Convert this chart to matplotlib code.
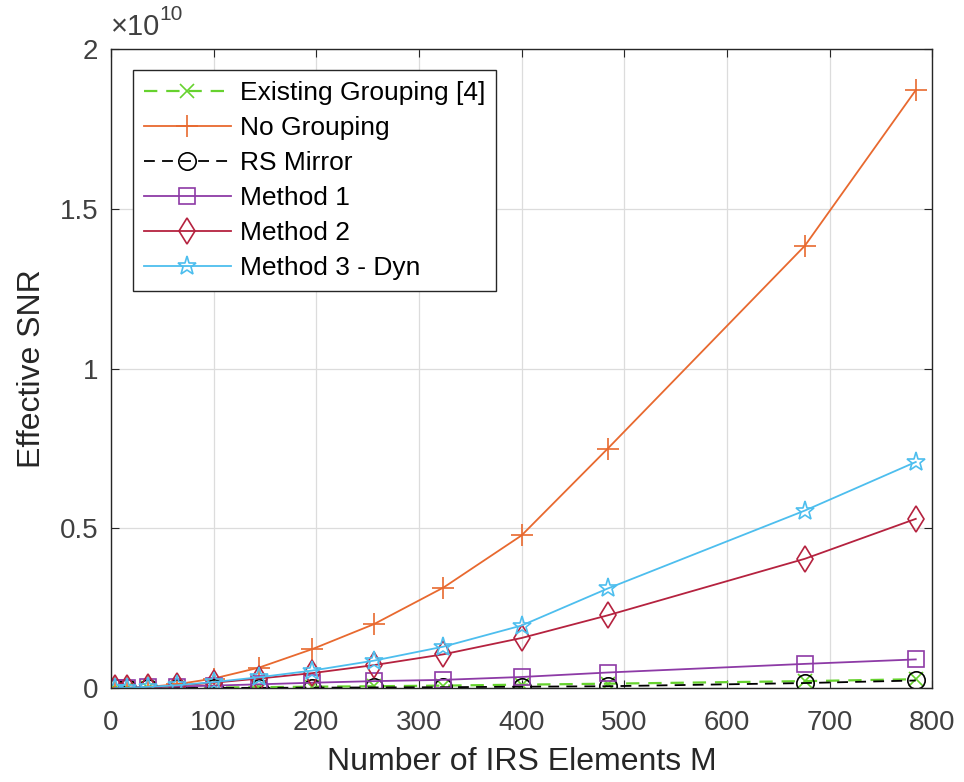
import numpy as np
import matplotlib
matplotlib.use('Agg')
import matplotlib.pyplot as plt

plt.rcParams['font.family'] = ['Liberation Sans', 'DejaVu Sans']

# number of IRS elements
M = [4, 16, 36, 64, 100, 144, 196, 256, 324, 400, 484, 676, 784]

# effective SNR values, in units of 1e10
existing_grouping = [0.0001, 0.0003, 0.0007, 0.0013, 0.002, 0.003, 0.0045, 0.006, 0.008, 0.011, 0.014, 0.022, 0.028]
no_grouping = [0.0001, 0.001, 0.004, 0.012, 0.03, 0.064, 0.122, 0.2, 0.315, 0.478, 0.75, 1.385, 1.872]
rs_mirror = [0.0, 0.0001, 0.0002, 0.0004, 0.0007, 0.001, 0.0015, 0.0022, 0.003, 0.0045, 0.006, 0.016, 0.024]
method1 = [0.0003, 0.001, 0.003, 0.005, 0.008, 0.012, 0.017, 0.022, 0.026, 0.035, 0.049, 0.076, 0.09]
method2 = [0.0, 0.0008, 0.003, 0.008, 0.017, 0.03, 0.047, 0.072, 0.106, 0.157, 0.228, 0.405, 0.53]
method3 = [0.0001, 0.001, 0.004, 0.009, 0.019, 0.034, 0.055, 0.086, 0.13, 0.196, 0.312, 0.556, 0.708]

yticks = [0, 0.5, 1, 1.5, 2]
ytick_labels = ['0', '0.5', '1', '1.5', '2']

fig = plt.figure(figsize=(9.64, 7.82), dpi=100)
ax = fig.add_axes([0.115, 0.12, 0.852, 0.817])

lw = 1.3
ax.plot(M, existing_grouping, '--', color='#66d22e', marker='x', ms=10, mew=1.2,
        lw=1.6, dashes=(6, 4), label='Existing Grouping [4]')
ax.plot(M, no_grouping, '-', color='#e8692f', marker='+', ms=16, mew=1.2,
        lw=lw, label='No Grouping')
ax.plot(M, rs_mirror, '--', color='black', marker='o', ms=12.5, mew=1.2,
        mfc='none', lw=lw, dashes=(6, 4), label='RS Mirror')
ax.plot(M, method1, '-', color='#8d3aa6', marker='s', ms=11, mew=1.2,
        mfc='none', lw=lw, label='Method 1')
ax.plot(M, method2, '-', color='#b5223f', marker='d', ms=13.5, mew=1.2,
        mfc='none', lw=lw, label='Method 2')
ax.plot(M, method3, '-', color='#4dbeee', marker='*', ms=14, mew=1.2,
        mfc='none', lw=lw, label='Method 3 - Dyn')

ax.set_xlim(0, 800)
ax.set_ylim(0, 2)
ax.set_xticks(np.arange(0, 801, 100))
ax.set_yticks(yticks)
ax.set_yticklabels(ytick_labels)

# exponent label above the y axis
ax.text(0.0, 1.013, '\u00d710', transform=ax.transAxes, fontsize=21,
        color='#404040', ha='left', va='bottom')
ax.text(0.059, 1.040, '10', transform=ax.transAxes, fontsize=15,
        color='#404040', ha='left', va='bottom')

ax.grid(True, color='#dcdcdc', lw=0.9)
ax.tick_params(direction='in', top=True, right=True, labelsize=20, colors='#262626',
               labelcolor='#404040', length=6)
ax.tick_params(axis='x', pad=16)
ax.tick_params(axis='y', pad=9)
for s in ax.spines.values():
    s.set_color('#262626')
    s.set_linewidth(1.0)

ax.set_xlabel('Number of IRS Elements M', fontsize=23, color='#262626', labelpad=8)
ax.set_ylabel('Effective SNR', fontsize=23, color='#262626', labelpad=9)

leg = ax.legend(loc='upper left', bbox_to_anchor=(0.027, 0.967), borderaxespad=0,
                fontsize=19, fancybox=False, edgecolor='#262626', framealpha=1,
                handlelength=3.3, handletextpad=0.35, borderpad=0.4, labelspacing=0.42)
leg.get_frame().set_linewidth(1.0)

fig.savefig('out.png', dpi=100)
